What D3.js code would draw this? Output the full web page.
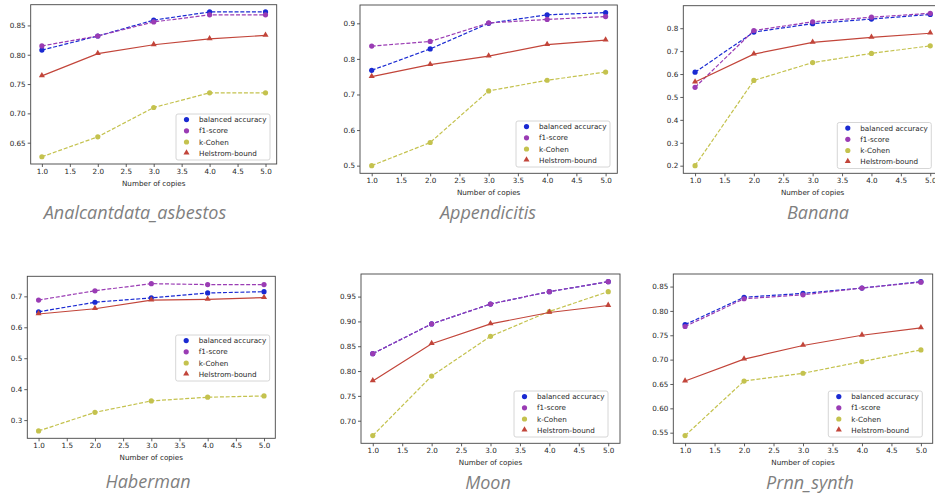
<!DOCTYPE html>
<html>
<head>
<meta charset="utf-8">
<script src="https://cdn.jsdelivr.net/npm/d3@7"></script>
<style>
  html, body { margin: 0; padding: 0; background: #ffffff; overflow: hidden; }
  svg { display: block; }
  .tick text, .axlabel, .legtext { font-family: "DejaVu Sans", sans-serif; fill: #262626; }
  .title { font-family: "Open Sans", "Noto Sans", sans-serif; font-style: italic; fill: #7f7f7f; }
</style>
</head>
<body>
<svg id="chart" width="935" height="495"></svg>
<script>
// ---------------- DATA ----------------
const copies = [1, 2, 3, 4, 5];
const seriesNames = ["balanced accuracy", "f1-score", "k-Cohen", "Helstrom-bound"];
const datasetNames = ["Analcantdata_asbestos", "Appendicitis", "Banana", "Haberman", "Moon", "Prnn_synth"];
const xTicks = [1.0, 1.5, 2.0, 2.5, 3.0, 3.5, 4.0, 4.5, 5.0];

const asbestosBalanced = [0.808, 0.832, 0.859, 0.873, 0.873];
const asbestosF1       = [0.815, 0.832, 0.856, 0.868, 0.868];
const asbestosKCohen   = [0.626, 0.660, 0.710, 0.735, 0.735];
const asbestosHelstrom = [0.764, 0.802, 0.817, 0.827, 0.833];
const asbestosYTicks   = [0.65, 0.70, 0.75, 0.80, 0.85];

const appendicitisBalanced = [0.768, 0.828, 0.900, 0.924, 0.930];
const appendicitisF1       = [0.836, 0.849, 0.901, 0.911, 0.919];
const appendicitisKCohen   = [0.500, 0.565, 0.710, 0.740, 0.763];
const appendicitisHelstrom = [0.750, 0.784, 0.808, 0.840, 0.853];
const appendicitisYTicks   = [0.5, 0.6, 0.7, 0.8, 0.9];

const bananaBalanced = [0.608, 0.783, 0.820, 0.840, 0.860];
const bananaF1       = [0.542, 0.790, 0.828, 0.848, 0.865];
const bananaKCohen   = [0.200, 0.572, 0.650, 0.690, 0.723];
const bananaHelstrom = [0.565, 0.687, 0.738, 0.760, 0.778];
const bananaYTicks   = [0.2, 0.3, 0.4, 0.5, 0.6, 0.7, 0.8];

const habermanBalanced = [0.650, 0.681, 0.695, 0.711, 0.715];
const habermanF1       = [0.688, 0.718, 0.741, 0.738, 0.738];
const habermanKCohen   = [0.265, 0.325, 0.362, 0.374, 0.378];
const habermanHelstrom = [0.643, 0.660, 0.688, 0.690, 0.696];
const habermanYTicks   = [0.3, 0.4, 0.5, 0.6, 0.7];

const moonBalanced = [0.835, 0.895, 0.935, 0.960, 0.980];
const moonF1       = [0.835, 0.895, 0.935, 0.960, 0.980];
const moonKCohen   = [0.670, 0.790, 0.870, 0.920, 0.960];
const moonHelstrom = [0.780, 0.855, 0.895, 0.918, 0.932];
const moonYTicks   = [0.70, 0.75, 0.80, 0.85, 0.90, 0.95];

const prnnBalanced = [0.772, 0.828, 0.836, 0.847, 0.860];
const prnnF1       = [0.768, 0.825, 0.833, 0.847, 0.859];
const prnnKCohen   = [0.544, 0.656, 0.672, 0.696, 0.720];
const prnnHelstrom = [0.656, 0.701, 0.729, 0.750, 0.765];
const prnnYTicks   = [0.55, 0.60, 0.65, 0.70, 0.75, 0.80, 0.85];

// ---------------- STYLE / LAYOUT ----------------
const colors = ["#1a2ad2", "#9a3cb4", "#c4c24e", "#c2453a"];
const dashed = [true, true, true, false];
const markerShape = ["circle", "circle", "circle", "triangle"];

const panels = [
  { series: [asbestosBalanced, asbestosF1, asbestosKCohen, asbestosHelstrom], yTicks: asbestosYTicks, fmt: ".2f",
    frame: { l: 30.7, t: 4.7, r: 276.7, b: 164 }, legend: { x: 176, y: 114 }, title: { x: 135, y: 219 } },
  { series: [appendicitisBalanced, appendicitisF1, appendicitisKCohen, appendicitisHelstrom], yTicks: appendicitisYTicks, fmt: ".1f",
    frame: { l: 360, t: 5, r: 617.3, b: 173.3 }, legend: { x: 516, y: 121 }, title: { x: 488, y: 219 } },
  { series: [bananaBalanced, bananaF1, bananaKCohen, bananaHelstrom], yTicks: bananaYTicks, fmt: ".1f",
    frame: { l: 683.3, t: 5.7, r: 942, b: 173.3 }, legend: { x: 837.3, y: 122.5 }, title: { x: 818, y: 219 } },
  { series: [habermanBalanced, habermanF1, habermanKCohen, habermanHelstrom], yTicks: habermanYTicks, fmt: ".1f",
    frame: { l: 27.3, t: 276.3, r: 275.3, b: 438.3 }, legend: { x: 175.7, y: 335 }, title: { x: 148, y: 488 } },
  { series: [moonBalanced, moonF1, moonKCohen, moonHelstrom], yTicks: moonYTicks, fmt: ".2f",
    frame: { l: 361, t: 274, r: 620, b: 443.3 }, legend: { x: 514, y: 391 }, title: { x: 488, y: 489 } },
  { series: [prnnBalanced, prnnF1, prnnKCohen, prnnHelstrom], yTicks: prnnYTicks, fmt: ".2f",
    frame: { l: 673.3, t: 274, r: 932.7, b: 443.3 }, legend: { x: 828.3, y: 391 }, title: { x: 810, y: 489 } }
];

const svg = d3.select("#chart");
const fontPx = 7.2;

function padded(extent) {
  const m = (extent[1] - extent[0]) * 0.05;
  return [extent[0] - m, extent[1] + m];
}

panels.forEach((p, pi) => {
  const f = p.frame;
  const g = svg.append("g");
  const x = d3.scaleLinear().domain(padded(d3.extent(copies))).range([f.l, f.r]);
  const allVals = p.series.flat();
  const y = d3.scaleLinear().domain(padded(d3.extent(allVals))).range([f.b, f.t]);

  // axes
  const xAxis = d3.axisBottom(x).tickValues(xTicks).tickFormat(d3.format(".1f")).tickSize(3).tickPadding(2);
  const yAxis = d3.axisLeft(y).tickValues(p.yTicks).tickFormat(d3.format(p.fmt)).tickSize(3).tickPadding(2);
  const gx = g.append("g").attr("transform", `translate(0,${f.b})`).call(xAxis);
  const gy = g.append("g").attr("transform", `translate(${f.l},0)`).call(yAxis);
  [gx, gy].forEach(ax => {
    ax.select(".domain").remove();
    ax.selectAll(".tick line").attr("stroke", "#333").attr("stroke-width", 0.8);
    ax.selectAll(".tick text").style("font-size", fontPx + "px");
  });

  // clip
  const clipId = "clip" + pi;
  g.append("clipPath").attr("id", clipId).append("rect")
    .attr("x", f.l).attr("y", f.t).attr("width", f.r - f.l).attr("height", f.b - f.t);
  const plot = g.append("g").attr("clip-path", `url(#${clipId})`);

  const line = d3.line().x((d, i) => x(copies[i])).y(d => y(d));
  const tri = d3.symbol().type(d3.symbolTriangle).size(16);

  p.series.forEach((vals, si) => {
    plot.append("path").datum(vals)
      .attr("d", line)
      .attr("fill", "none")
      .attr("stroke", colors[si])
      .attr("stroke-width", 1.2)
      .attr("stroke-dasharray", dashed[si] ? "4,1.8" : null);
    if (markerShape[si] === "circle") {
      plot.selectAll(null).data(vals).enter().append("circle")
        .attr("cx", (d, i) => x(copies[i])).attr("cy", d => y(d))
        .attr("r", 2.6).attr("fill", colors[si]);
    } else {
      plot.selectAll(null).data(vals).enter().append("path")
        .attr("d", tri)
        .attr("transform", (d, i) => `translate(${x(copies[i])},${y(d) - 0.4})`)
        .attr("fill", colors[si]);
    }
  });

  // frame
  g.append("rect").attr("x", f.l).attr("y", f.t).attr("width", f.r - f.l).attr("height", f.b - f.t)
    .attr("fill", "none").attr("stroke", "#444").attr("stroke-width", 0.9);

  // x label
  g.append("text").attr("class", "axlabel")
    .attr("x", (f.l + f.r) / 2).attr("y", f.b + 22)
    .attr("text-anchor", "middle").style("font-size", fontPx + "px")
    .text("Number of copies");

  // legend
  const L = p.legend;
  const lg = g.append("g").attr("transform", `translate(${L.x},${L.y})`);
  lg.append("rect").attr("x", 0).attr("y", 0).attr("width", 94).attr("height", 46)
    .attr("rx", 2).attr("fill", "#fff").attr("fill-opacity", 0.85)
    .attr("stroke", "#cccccc").attr("stroke-width", 0.8);
  seriesNames.forEach((name, si) => {
    const cy = 5.6 + si * 11.2;
    if (markerShape[si] === "circle") {
      lg.append("circle").attr("cx", 10.5).attr("cy", cy).attr("r", 2.6).attr("fill", colors[si]);
    } else {
      lg.append("path").attr("d", tri).attr("transform", `translate(10.5,${cy - 0.4})`).attr("fill", colors[si]);
    }
    lg.append("text").attr("class", "legtext").attr("x", 23).attr("y", cy + 2.6)
      .style("font-size", fontPx + "px").text(name);
  });

  // dataset title
  svg.append("text").attr("class", "title")
    .attr("x", p.title.x).attr("y", p.title.y)
    .attr("text-anchor", "middle").style("font-size", "18px")
    .text(datasetNames[pi]);
});
</script>
</body>
</html>
